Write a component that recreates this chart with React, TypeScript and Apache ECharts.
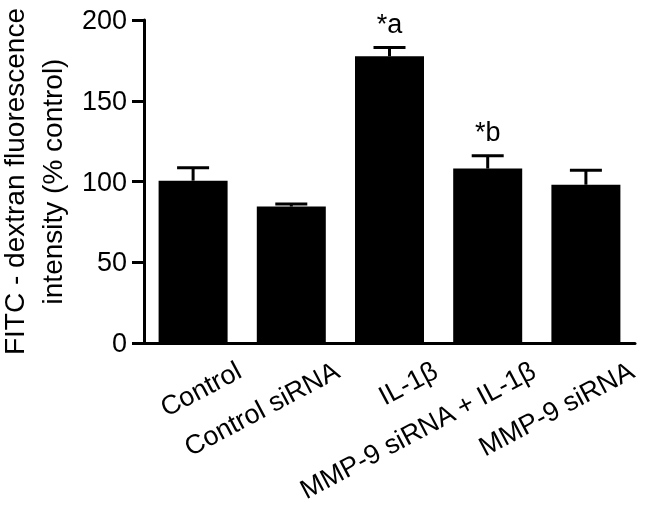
import React, { useEffect, useRef } from 'react';
import * as echarts from 'echarts';

const categories = ['Control', 'Control siRNA', 'IL-1β', 'MMP-9 siRNA + IL-1β', 'MMP-9 siRNA'];
const means = [100.5, 84.5, 177.5, 108, 98];
const errors = [8, 1.5, 5.5, 8, 9];
const annotations = ['', '', '*a', '*b', ''];
const yTicks = [0, 50, 100, 150, 200];
const yTitle = ['FITC - dextran fluorescence', 'intensity (% control)'];

const FONT = "'Liberation Sans', Arial, Helvetica, sans-serif";

export default function App() {
  const ref = useRef<HTMLDivElement>(null);
  useEffect(() => {
    const chart = echarts.init(ref.current!, null, { renderer: 'svg' });
    chart.setOption({
      animation: false,
      grid: { left: 144, right: 27, top: 20, bottom: 164, containLabel: false, outerBoundsMode: 'none' },
      xAxis: {
        type: 'category',
        data: categories,
        z: 5,
        axisLine: { lineStyle: { color: '#000', width: 3 } },
        axisTick: { alignWithLabel: true, length: 12, lineStyle: { color: '#000', width: 3 } },
        axisLabel: {
          rotate: 28,
          fontSize: 27,
          color: '#000',
          fontFamily: FONT,
          margin: 50,
          interval: 0,
          padding: [0, -52, 0, 0],
        },
      },
      yAxis: {
        type: 'value',
        min: yTicks[0],
        max: yTicks[yTicks.length - 1],
        interval: yTicks[1] - yTicks[0],
        name: yTitle.join('\n'),
        nameLocation: 'middle',
        nameRotate: 90,
        nameGap: 72,
        nameTextStyle: { fontSize: 28, lineHeight: 38, color: '#000', fontFamily: FONT },
        axisLine: { show: true, lineStyle: { color: '#000', width: 3 } },
        axisTick: { show: true, length: 12, lineStyle: { color: '#000', width: 3 } },
        axisLabel: { fontSize: 27, color: '#000', fontFamily: FONT, margin: 17 },
        splitLine: { show: false },
      },
      series: [
        {
          type: 'bar',
          data: means,
          barWidth: 69,
          itemStyle: { color: '#000' },
          silent: true,
        },
        {
          type: 'custom',
          data: categories.map((_, i) => [i, means[i] + errors[i], means[i]]),
          encode: { x: 0, y: 1 },
          z: 3,
          silent: true,
          renderItem: (params: any, api: any) => {
            const i = api.value(0);
            const top = api.coord([i, api.value(1)]);
            const base = api.coord([i, api.value(2)]);
            const children: any[] = [
              { type: 'line', shape: { x1: top[0], y1: base[1], x2: top[0], y2: top[1] }, style: { stroke: '#000', lineWidth: 3 } },
              { type: 'line', shape: { x1: top[0] - 16, y1: top[1], x2: top[0] + 16, y2: top[1] }, style: { stroke: '#000', lineWidth: 3 } },
            ];
            const note = annotations[params.dataIndex];
            if (note) {
              children.push({
                type: 'text',
                style: {
                  text: note,
                  x: top[0],
                  y: top[1] - 10,
                  align: 'center',
                  verticalAlign: 'bottom',
                  fontSize: 27,
                  fontFamily: FONT,
                  fill: '#000',
                },
              });
            }
            return { type: 'group', children };
          },
        },
      ],
    });
    return () => chart.dispose();
  }, []);
  return <div ref={ref} style={{ position: 'fixed', left: 0, top: 0, width: 662, height: 507 }} />;
}
